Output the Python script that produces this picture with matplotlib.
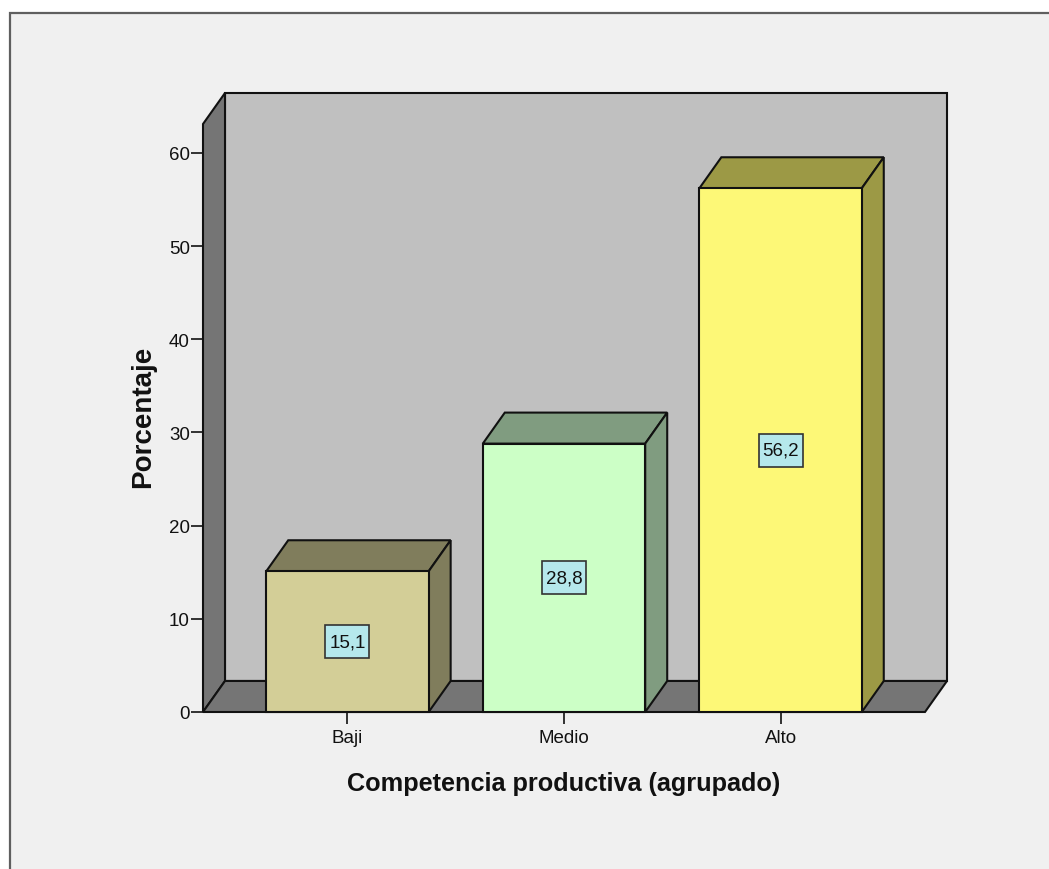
import matplotlib.pyplot as plt
from matplotlib.patches import Polygon, Rectangle

categories = ["Baji", "Medio", "Alto"]
values = [15.1, 28.8, 56.2]
y_ticks = [0, 10, 20, 30, 40, 50, 60]

front_colors = ["#d3ce97", "#ccffc6", "#fdf877"]
side_colors = ["#807d5c", "#809c80", "#9c9945"]

W, H = 1049, 870
BAR_W = 0.75
DX, DY = 0.1016, 3.33      # desplazamiento de la profundidad 3D
X0, X1 = -0.667, 2.667
YMAX = 63.1
BOX_W, BOX_H = 0.203, 3.54  # caja de la etiqueta de valor
EDGE = "#111111"

plt.rcParams["font.family"] = ["Liberation Sans", "DejaVu Sans"]

fig = plt.figure(figsize=(W / 100, H / 100), dpi=100, facecolor="white")
# panel gris de fondo con borde arriba y a la izquierda
fig.add_artist(Rectangle((9.8 / W, -0.1), 1.1, 1.1 - 13.8 / H, transform=fig.transFigure,
                         facecolor="#f0f0f0", edgecolor="#5f5f5f", linewidth=1.6, zorder=-1))

ax = fig.add_axes([203 / W, 1 - 713 / H, 722 / W, 588 / H])
ax.set_xlim(X0, X1)
ax.set_ylim(0, YMAX)
ax.patch.set_visible(False)
for s in ax.spines.values():
    s.set_visible(False)


def poly(points, color, z):
    ax.add_patch(Polygon(points, closed=True, facecolor=color, edgecolor=EDGE,
                         linewidth=1.5, joinstyle="miter", clip_on=False, zorder=z))


# paredes y suelo
poly([(X0 + DX, DY), (X1 + DX, DY), (X1 + DX, YMAX + DY), (X0 + DX, YMAX + DY)], "#c0c0c0", 1)
poly([(X0, 0), (X0 + DX, DY), (X0 + DX, YMAX + DY), (X0, YMAX)], "#757575", 1.1)
poly([(X0, 0), (X1, 0), (X1 + DX, DY), (X0 + DX, DY)], "#757575", 1.2)

# barras
for i, v in enumerate(values):
    l, r = i - BAR_W / 2, i + BAR_W / 2
    poly([(l, v), (r, v), (r + DX, v + DY), (l + DX, v + DY)], side_colors[i], 2)
    poly([(r, 0), (r + DX, DY), (r + DX, v + DY), (r, v)], side_colors[i], 2)
bars = ax.bar(range(len(values)), values, width=BAR_W, color=front_colors,
              edgecolor=EDGE, linewidth=1.5, zorder=3)
for b in bars:
    b.set_clip_on(False)

# etiquetas de valor
for i, v in enumerate(values):
    ax.add_patch(Rectangle((i - BOX_W / 2, v / 2 - BOX_H / 2), BOX_W, BOX_H, facecolor="#b5e8ec",
                           edgecolor="#333333", linewidth=1.2, zorder=4))
    ax.text(i, v / 2, f"{v:.1f}".replace(".", ","), ha="center", va="center",
            fontsize=13.5, color="#111111", zorder=5)

ax.set_xticks(range(len(categories)), categories)
ax.set_yticks(y_ticks)
ax.tick_params(axis="both", length=8.5, width=1.2, color="#111111", labelsize=13.5,
               labelcolor="#111111")
ax.tick_params(axis="x", pad=4)
ax.tick_params(axis="y", pad=1)
ax.set_xlabel("Competencia productiva (agrupado)", fontsize=18.2, fontweight="bold",
              color="#111111", labelpad=18)
ax.set_ylabel("Porcentaje", fontsize=20, fontweight="bold", color="#111111", labelpad=9, y=0.503)

fig.savefig("out.png", dpi=100, facecolor="white")
